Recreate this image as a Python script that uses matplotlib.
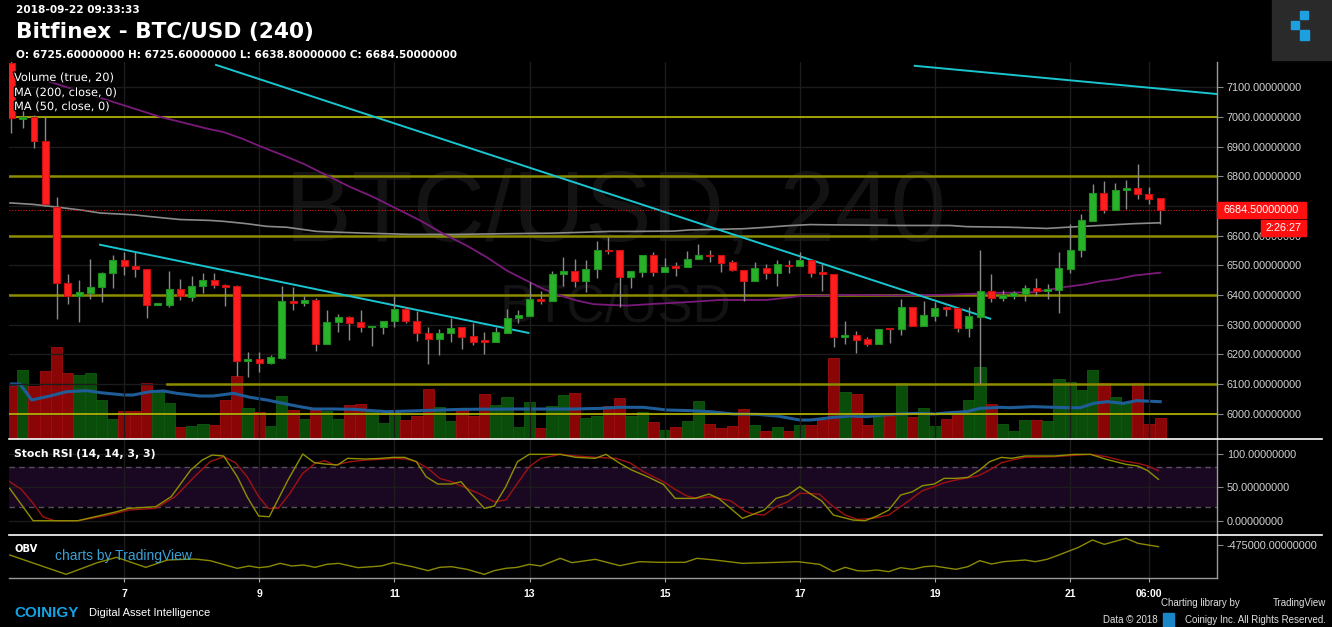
"""Bitfinex BTC/USD 4h candles with volume, MAs, Stoch RSI and OBV (Coinigy style)."""

import numpy as np
import matplotlib

matplotlib.use("Agg")
import matplotlib.pyplot as plt
import matplotlib.patheffects as pe
from matplotlib.patches import Rectangle
from matplotlib.lines import Line2D

# ---------------------------------------------------------------- data
opens = [7180, 6992, 7000, 6917, 6696, 6439, 6397, 6408, 6425, 6473, 6516, 6499, 6488, 6367, 6366, 6420, 6394, 6430,
         6451, 6434, 6430, 6178, 6184, 6171, 6189, 6381, 6374, 6383, 6234, 6308, 6326, 6309, 6291, 6293, 6311, 6354,
         6311, 6270, 6253, 6270, 6293, 6261, 6249, 6240, 6273, 6322, 6330, 6387, 6381, 6469, 6479, 6446, 6486, 6553,
         6553, 6459, 6478, 6533, 6476, 6496, 6493, 6521, 6536, 6535, 6511, 6484, 6448, 6491, 6473, 6501, 6497, 6516,
         6476, 6471, 6257, 6266, 6251, 6236, 6287, 6284, 6360, 6294, 6330, 6360, 6356, 6287, 6327, 6414, 6389,
         6398, 6403, 6422, 6414, 6418, 6488, 6550, 6649, 6744, 6685, 6752, 6761, 6741, 6725.6]
highs = [7200, 7028, 7005, 7000, 6730, 6471, 6450, 6521, 6476, 6536, 6543, 6544, 6488, 6372, 6479, 6452, 6465, 6475,
         6475, 6437, 6435, 6206, 6208, 6198, 6431, 6428, 6398, 6390, 6350, 6336, 6328, 6350, 6296, 6313, 6398, 6358,
         6347, 6291, 6285, 6322, 6293, 6307, 6274, 6293, 6353, 6350, 6443, 6412, 6480, 6527, 6521, 6516, 6580, 6595,
         6553, 6479, 6533, 6544, 6525, 6512, 6547, 6570, 6553, 6535, 6516, 6484, 6512, 6505, 6519, 6519, 6544, 6516,
         6505, 6471, 6313, 6279, 6259, 6285, 6287, 6386, 6360, 6378, 6375, 6364, 6356, 6358, 6550, 6471, 6417,
         6414, 6435, 6457, 6437, 6546, 6640, 6673, 6773, 6783, 6778, 6786, 6840, 6764, 6725.6]
lows = [6946, 6961, 6896, 6700, 6319, 6369, 6310, 6386, 6375, 6422, 6468, 6460, 6323, 6366, 6358, 6383, 6381, 6407,
        6423, 6364, 6127, 6122, 6139, 6168, 6184, 6350, 6364, 6212, 6234, 6276, 6248, 6274, 6228, 6268, 6293, 6307,
        6245, 6167, 6198, 6243, 6217, 6232, 6200, 6240, 6273, 6305, 6330, 6369, 6381, 6431, 6426, 6409, 6457, 6538,
        6360, 6423, 6459, 6465, 6476, 6465, 6493, 6521, 6510, 6476, 6479, 6380, 6448, 6454, 6431, 6474, 6497, 6459,
        6414, 6223, 6234, 6204, 6229, 6236, 6237, 6266, 6294, 6294, 6313, 6330, 6276, 6257, 6099, 6375, 6381,
        6386, 6381, 6398, 6386, 6339, 6473, 6527, 6649, 6677, 6685, 6688, 6724, 6705, 6638.8]
closes = [6995, 7000, 6917, 6705, 6439, 6397, 6411, 6428, 6475, 6516, 6497, 6486, 6367, 6372, 6420, 6395, 6430, 6451,
          6435, 6428, 6178, 6184, 6171, 6191, 6381, 6374, 6383, 6236, 6309, 6326, 6306, 6291, 6296, 6313, 6354, 6311,
          6270, 6253, 6270, 6288, 6259, 6243, 6240, 6274, 6322, 6332, 6386, 6381, 6471, 6479, 6446, 6488, 6552, 6547,
          6459, 6479, 6533, 6476, 6494, 6491, 6521, 6535, 6532, 6508, 6484, 6448, 6491, 6473, 6505, 6497, 6516, 6474,
          6471, 6257, 6265, 6249, 6236, 6285, 6284, 6360, 6296, 6333, 6356, 6351, 6287, 6330, 6414, 6390, 6401,
          6407, 6422, 6414, 6420, 6491, 6552, 6651, 6744, 6685, 6754, 6761, 6739, 6722, 6684.5]
volumes = [159, 207, 159, 203, 275, 197, 192, 197, 117, 59, 84, 84, 167, 145, 107, 35, 39, 44,
           42, 117, 189, 92, 80, 40, 129, 87, 59, 87, 85, 59, 102, 105, 85, 47, 84, 57,
           69, 149, 95, 54, 89, 69, 135, 102, 125, 37, 111, 34, 99, 132, 139, 64, 69, 99,
           122, 69, 80, 52, 27, 37, 54, 115, 45, 32, 39, 89, 42, 24, 37, 24, 42, 42,
           57, 242, 140, 135, 42, 79, 69, 167, 65, 92, 39, 59, 75, 117, 215, 104, 44,
           25, 57, 57, 54, 179, 172, 147, 207, 169, 125, 112, 169, 44, 62]

vol_ma_x = [0, 0.75, 1.8, 3.4, 4.9, 6.7, 7.9, 10.0, 10.8, 12.3, 13.5, 14.7, 16.7, 17.9, 19.7, 21.2, 22.7, 24.1, 25.6,
            26.8, 28.6, 30.4, 32.1, 33.3, 35.4, 40, 45, 50, 52.3, 54.0, 56.1, 58.2, 60.3, 62.0, 64.1, 66.2, 68.0,
            70.0, 70.9, 71.5, 73, 74.5, 75.9, 77.4, 78.9, 80.4, 81.9, 83.3, 84.8, 86, 87.8, 88.7, 90.7, 93.7, 94.9,
            96.1, 97.3, 98.7, 99.9, 102]
vol_ma = [165, 165, 117, 129, 142, 145, 139, 132, 132, 142, 144, 137, 129, 129, 137, 125, 117, 107, 97,
          90, 90, 89, 85, 82, 84, 89, 90, 90, 92, 95, 95, 87, 85, 82, 75, 74, 69,
          57, 57, 59, 65, 69, 67, 72, 75, 77, 75, 79, 82, 92, 95, 94, 97, 94, 94,
          107, 112, 107, 115, 112]

ma50_x = [3.42, 13.19, 17.63, 18.81, 20.59, 22.07, 24.14, 25.92, 27.99, 30.06, 32.13, 33.91, 35.39, 36.28, 38.35,
          40.43, 42.2, 43.98, 45.75, 47.23, 48.71, 50.2, 51.67, 53.15, 54.64, 56.7, 59.66, 62.92, 67.07, 70.03,
          74.47, 78.9, 83.35, 87.8, 90.75, 93.41, 95.19, 96.67, 98.15, 99.63, 102]
ma50 = [7118, 7000, 6958, 6949, 6925, 6901, 6870, 6842, 6803, 6764, 6730, 6696, 6668, 6651, 6606,
        6566, 6527, 6482, 6448, 6420, 6398, 6381, 6369, 6366, 6364, 6369, 6375, 6383, 6383, 6396,
        6400, 6398, 6401, 6407, 6409, 6426, 6435, 6446, 6453, 6465, 6475]

ma200_x = [-0.13, 1.94, 4.01, 6.38, 7.86, 10.82, 12.3, 14.96, 17.63, 18.81, 20.89, 22.66, 24.44, 27.1, 29.17,
           31.54, 35.39, 39.83, 43.38, 47.82, 50.78, 53.15, 55.22, 58.77, 60.26, 64.99, 67.07, 68.85, 70.91,
           72.98, 78.9, 83.35, 84.83, 88.68, 91.94, 93.71, 96.67, 99.63, 102]
ma200 = [6710, 6705, 6696, 6685, 6676, 6670, 6664, 6654, 6651, 6648, 6640, 6631, 6628, 6614, 6611,
         6608, 6604, 6604, 6606, 6608, 6611, 6614, 6614, 6615, 6619, 6623, 6628, 6633, 6637,
         6636, 6634, 6634, 6630, 6628, 6624, 6628, 6634, 6640, 6643]

# trend lines drawn on the chart: (x0, p0, x1, p1) in candle index / price
trend_lines = [(18.16, 7175, 86.9, 6320), (7.86, 6569, 45.9, 6272), (80.2, 7172, 107.0, 7077)]
levels_bright = [7000, 6000]
levels_olive = [6800, 6600, 6400]
level_6100_start = 13.8

stoch_k_x = [-0.16, 1.92, 5.89, 9.34, 10.38, 12.80, 14.18, 15.91, 16.94, 17.81, 18.84, 20.05, 20.92, 21.95, 22.89,
             24.55, 25.86, 26.89, 27.83, 28.97, 29.83, 31.46, 32.84, 33.87, 34.91, 35.95, 36.81, 37.85, 39.06,
             39.92, 40.78, 41.99, 42.86, 43.89, 44.93, 45.97, 48.73, 50.11, 51.84, 52.79, 54.02, 55.07, 56.47,
             57.88, 58.93, 60.69, 61.92, 62.79, 63.85, 64.90, 66.83, 67.89, 68.94, 69.99, 70.87, 71.92, 72.98,
             74.73, 75.79, 76.84, 77.89, 78.95, 80.0, 80.88, 81.93, 82.81, 83.86, 84.92, 85.97, 86.85, 87.90,
             88.78, 90.01, 92.64, 94.40, 95.80, 97.21, 98.96, 100.02, 100.90, 101.84]
stoch_k = [48.5, 0, 0, 13.5, 18.5, 21, 36, 76, 91, 98.5, 97, 66, 36, 7, 6,
           61, 100, 87, 85, 83.5, 93.5, 92.5, 93.5, 95, 95, 88.5, 66, 55, 55,
           58.5, 41, 18.5, 22, 51, 88.5, 99.5, 99.5, 95, 93.5, 99.5, 86, 76, 66,
           54.5, 33.5, 33.5, 40, 33.5, 18.5, 3.5, 16, 33.5, 38.5, 51, 41, 30, 8.5,
           1, 0, 7, 16, 38.5, 43.5, 52.5, 55, 63.5, 63.5, 65, 76, 88.5, 95,
           93.5, 97, 97, 99.5, 99.5, 92, 84.5, 82, 75, 62]
stoch_d_x = [-0.16, 0.88, 1.92, 2.78, 3.82, 5.89, 8.65, 10.38, 12.80, 14.53, 16.25, 17.64, 18.84, 19.88, 20.92,
             21.95, 22.82, 23.68, 24.72, 25.86, 26.96, 27.83, 28.69, 30.07, 31.46, 32.84, 33.87, 35.08, 35.95,
             36.98, 38.02, 39.06, 40.09, 41.47, 42.86, 43.89, 44.93, 45.97, 47.0, 48.73, 50.11, 51.84, 53.66,
             54.89, 56.12, 57.88, 58.93, 59.99, 60.86, 62.09, 63.85, 65.08, 65.78, 66.83, 67.89, 68.94, 69.99,
             70.87, 71.75, 72.98, 74.03, 75.09, 76.49, 77.89, 78.95, 80.88, 81.93, 82.81, 83.86, 85.80, 86.85,
             87.90, 89.13, 90.01, 92.64, 94.40, 95.80, 97.21, 98.61, 100.02, 100.90, 101.84]
stoch_d = [58.5, 47, 26, 6, 0, 0, 8.5, 16, 18.5, 36, 66, 88.5, 96, 87, 66,
           36, 18.5, 18.5, 41, 71, 86, 90, 83.5, 88.5, 91, 92, 93.5, 92.5, 88.5,
           78.5, 63.5, 58.5, 51, 41, 28.5, 31, 56, 81, 93.5, 99.5, 97, 95, 93.5,
           87, 73.5, 58.5, 47, 37, 33.5, 36, 30, 15, 10, 8.5, 21, 28.5, 41,
           41, 39.5, 21, 8.5, 2, 3.5, 8.5, 21, 45, 51, 57, 61, 67, 76,
           87, 92, 95, 96, 98, 99.5, 96, 90, 86, 82, 75]

obv_x = [-0.16, 4.85, 7.62, 9.34, 11.93, 13.84, 16.25, 17.64, 20.05, 21.09, 21.95, 22.82, 23.85, 24.89, 25.93,
         26.96, 28.0, 29.04, 30.76, 32.84, 33.87, 35.6, 36.98, 38.02, 39.06, 40.44, 41.99, 42.86, 43.89, 44.93,
         45.97, 47.0, 48.73, 49.77, 51.84, 54.02, 55.77, 57.53, 59.81, 60.86, 62.44, 64.90, 68.06, 69.82, 71.75,
         72.98, 74.03, 75.09, 75.79, 76.84, 77.89, 78.95, 80.0, 81.06, 81.93, 83.86, 84.92, 85.97, 87.02, 88.08,
         90.01, 90.89, 91.94, 92.99, 94.75, 95.98, 97.03, 98.96, 100.02, 101.84]
obv = [-625000, -915000, -740000, -660000, -810000, -700000, -685000, -710000, -825000, -790000, -815000,
       -800000, -750000, -790000, -775000, -810000, -765000, -750000, -815000, -790000, -740000, -800000,
       -860000, -810000, -800000, -840000, -915000, -860000, -825000, -810000, -765000, -790000, -675000,
       -740000, -690000, -785000, -725000, -735000, -735000, -675000, -700000, -750000, -735000, -725000,
       -765000, -875000, -810000, -860000, -865000, -850000, -875000, -815000, -840000, -800000, -790000,
       -840000, -800000, -710000, -760000, -725000, -700000, -725000, -690000, -625000, -510000, -400000,
       -465000, -375000, -450000, -500000]

tick_pos = [10, 22, 34, 46, 58, 70, 82, 94, 101]
tick_labels = ["7", "9", "11", "13", "15", "17", "19", "21", "06:00"]
price_ticks = list(range(6000, 7101, 100))
last_price = 6684.5

# ---------------------------------------------------------------- layout helpers
W, H = 1332, 627
fig = plt.figure(figsize=(W / 100, H / 100), dpi=100, facecolor="black")


def rect(x0, y0, x1, y1):
    return [x0 / W, 1 - y1 / H, (x1 - x0) / W, (y1 - y0) / H]


def ftext(x, y, s, **kw):
    kw.setdefault("va", "center")
    kw.setdefault("color", "white")
    return fig.text(x / W, 1 - y / H, s, **kw)


def fline(x0, y0, x1, y1, **kw):
    fig.add_artist(Line2D([x0 / W, x1 / W], [1 - y0 / H, 1 - y1 / H], transform=fig.transFigure, **kw))


XL, XR = 9, 1217
XLIM = (-0.22, 107.04)
AXIS_TXT = dict(color="#d2d2d2", fontsize=7.8, family="Liberation Sans")


def style(ax):
    ax.set_facecolor("none")
    for s in ax.spines.values():
        s.set_visible(False)
    ax.set_xlim(*XLIM)
    ax.set_xticks(tick_pos)
    ax.tick_params(axis="x", length=0, labelbottom=False)
    ax.grid(axis="x", color="#1c1c1c", lw=1)


# ---------------------------------------------------------------- volume (bottom layer)
axv = fig.add_axes(rect(XL, 62, XR, 439))
axv.set_facecolor("black")
for s in axv.spines.values():
    s.set_visible(False)
axv.set_xlim(*XLIM)
axv.set_ylim(0, 1131)
axv.set_xticks([])
axv.set_yticks([])
up = [c >= o for o, c in zip(opens, closes)]
idx = np.arange(len(opens))
axv.bar(idx, volumes, width=1.0, color=["#0a4d0a" if u else "#8a0606" for u in up],
        edgecolor=["#0f5a0f" if u else "#a01010" for u in up], lw=0.6)
axv.plot(vol_ma_x, vol_ma, color="#1f5d98", lw=2.2)
axv.text(0.502, 0.594, "BTC/USD, 240", transform=axv.transAxes, ha="center", va="center",
         fontsize=72, color="#131313", family="Liberation Sans")
axv.text(0.502, 0.35, "BTC/USD", transform=axv.transAxes, ha="center", va="center",
         fontsize=38, color="#131313", family="Liberation Sans")

# ---------------------------------------------------------------- price
ax = fig.add_axes(rect(XL, 62, XR, 439))
style(ax)
ax.set_ylim(5914.5, 7184.8)
ax.yaxis.tick_right()
ax.set_yticks(price_ticks)
# the 6700 label sits under the live-price box
ax.set_yticklabels(["" if v == 6700 else f"{v:.8f}" for v in price_ticks], **AXIS_TXT)
ax.tick_params(axis="y", length=4, color="#888888", pad=3)
ax.grid(axis="y", color="#1c1c1c", lw=1)

for lv in levels_bright:
    ax.axhline(lv, color="#c8c800", lw=1.1, zorder=2)
for lv in levels_olive:
    ax.axhline(lv, color="#8c8c00", lw=1.8, zorder=2)
ax.plot([level_6100_start, XLIM[1]], [6100, 6100], color="#8c8c00", lw=1.8, zorder=2)

ax.plot(ma200_x, ma200, color="#8a8a8a", lw=1.2, zorder=3)
ax.plot(ma50_x, ma50, color="#7a1a7a", lw=1.3, zorder=3)
for x0, p0, x1, p1 in trend_lines:
    ax.plot([x0, x1], [p0, p1], color="#19c6d0", lw=1.4, zorder=3)
ax.axhline(last_price, color="#e01010", lw=0.8, ls=(0, (1, 1.5)), zorder=3)

ax.vlines(idx, lows, highs, color="#8a8a8a", lw=1.0, zorder=4)
body_lo = [min(o, c) for o, c in zip(opens, closes)]
body_h = [max(abs(c - o), 3.0) for o, c in zip(opens, closes)]
ax.bar(idx, body_h, bottom=body_lo, width=0.62, zorder=5,
       color=["#29b12a" if u else "#ff1e1e" for u in up],
       edgecolor=["#1f8f1f" if u else "#c81010" for u in up], lw=0.8)

shadow = [pe.withStroke(linewidth=2, foreground="black")]
for y, s in [(78, "Volume (true, 20)"), (93, "MA (200, close, 0)"), (107, "MA (50, close, 0)")]:
    ftext(14, y, s, fontsize=8.2, family="DejaVu Sans", path_effects=shadow)

# current price / countdown boxes
ypx = 62 + (7184.8 - last_price) / (7184.8 - 5914.5) * 377
fig.add_artist(Rectangle((1217 / W, 1 - (ypx + 8) / H), 89 / W, 16 / H, transform=fig.transFigure,
                         color="#ff1010", zorder=10))
ftext(1223, ypx, "6684.50000000", color="white", fontsize=7.8, family="Liberation Sans", zorder=11)
fig.add_artist(Rectangle((1261 / W, 1 - 236 / H), 45 / W, 16 / H, transform=fig.transFigure,
                         color="#ff1010", zorder=10))
ftext(1265, 228, "2:26:27", color="white", fontsize=7.8, family="Liberation Sans", zorder=11)

# ---------------------------------------------------------------- stoch rsi
axs = fig.add_axes(rect(XL, 439, XR, 535))
style(axs)
axs.set_ylim(-21.4, 122.5)
axs.axhspan(20, 80, color="#1a0822", lw=0, zorder=1)
for lv in (20, 80):
    axs.axhline(lv, color="#585058", lw=1, ls=(0, (4, 3)), zorder=2)
axs.yaxis.tick_right()
axs.set_yticks([0, 50, 100])
axs.set_yticklabels(["0.00000000", "50.00000000", "100.00000000"], **AXIS_TXT)
axs.tick_params(axis="y", length=4, color="#888888", pad=3)
axs.grid(axis="y", color="#1c1c1c", lw=1)
axs.plot(stoch_d_x, stoch_d, color="#a01212", lw=1.0, zorder=3)
axs.plot(stoch_k_x, stoch_k, color="#8f8f00", lw=1.0, zorder=4)
ftext(14, 454, "Stoch RSI (14, 14, 3, 3)", fontsize=7.8, fontweight="bold", family="DejaVu Sans")

# ---------------------------------------------------------------- obv
axo = fig.add_axes(rect(XL, 535, XR, 578))
style(axo)
axo.set_ylim(-970000, -325000)
axo.yaxis.tick_right()
axo.set_yticks([-475000])
axo.set_yticklabels(["-475000.00000000"], **AXIS_TXT)
axo.tick_params(axis="y", length=4, color="#888888", pad=3)
axo.plot(obv_x, obv, color="#8a8a00", lw=1.0)
axo.tick_params(axis="x", length=3, color="#aaaaaa", labelbottom=True, pad=5)
axo.set_xticklabels(tick_labels, color="white", fontsize=7.5, fontweight="bold", family="Liberation Sans")
ftext(14, 549, "OBV", fontsize=7.2, fontweight="bold", family="DejaVu Sans")
ftext(55, 556, "charts by TradingView", color="#3ba2d8", fontsize=10, family="Liberation Sans")

# axis frame and panel separators
fline(XR, 62, XR, 578, color="#9a9a9a", lw=1)
fline(XL, 578, XR, 578, color="#9a9a9a", lw=1)
fline(XL, 439, 1322, 439, color="white", lw=1.2)
fline(XL, 535, 1322, 535, color="white", lw=1.2)

# ---------------------------------------------------------------- header / footer
ftext(16, 10, "2018-09-22 09:33:33", fontsize=7.6, fontweight="bold", family="DejaVu Sans")
ftext(16, 32, "Bitfinex - BTC/USD (240)", fontsize=15.6, fontweight="bold", family="DejaVu Sans")
ftext(16, 55, "O: 6725.60000000 H: 6725.60000000 L: 6638.80000000 C: 6684.50000000",
      fontsize=7.6, fontweight="bold", family="DejaVu Sans")

fig.add_artist(Rectangle((1272 / W, 1 - 60 / H), 60 / W, 60 / H, transform=fig.transFigure, color="#2a2a2a"))
for bx, by, bw, bh in [(1300, 11, 8, 8), (1291, 21, 8, 8), (1300, 30, 9, 10)]:
    fig.add_artist(Rectangle((bx / W, 1 - (by + bh) / H), bw / W, bh / H, transform=fig.transFigure,
                             color="#1ea0e0"))

ftext(14, 613, "COINIGY", color="#13a4e6", fontsize=11, fontweight="bold", family="Liberation Sans")
ftext(89, 613, "Digital Asset Intelligence", fontsize=8, family="Liberation Sans")
ftext(1240, 603, "Charting library by", ha="right", fontsize=7, color="#e0e0e0", family="Liberation Sans")
ftext(1326, 603, "TradingView", ha="right", fontsize=7, color="#e0e0e0", family="Liberation Sans")
ftext(1158, 620, "Data \u00a9 2018", ha="right", fontsize=7, color="#e0e0e0", family="Liberation Sans")
fig.add_artist(Rectangle((1163 / W, 1 - 627 / H), 11 / W, 14 / H, transform=fig.transFigure, color="#1a86c8"))
ftext(1326, 620, "Coinigy Inc. All Rights Reserved.", ha="right", fontsize=7, color="#e0e0e0",
      family="Liberation Sans")

fig.savefig("out.png", dpi=100, facecolor="black")
